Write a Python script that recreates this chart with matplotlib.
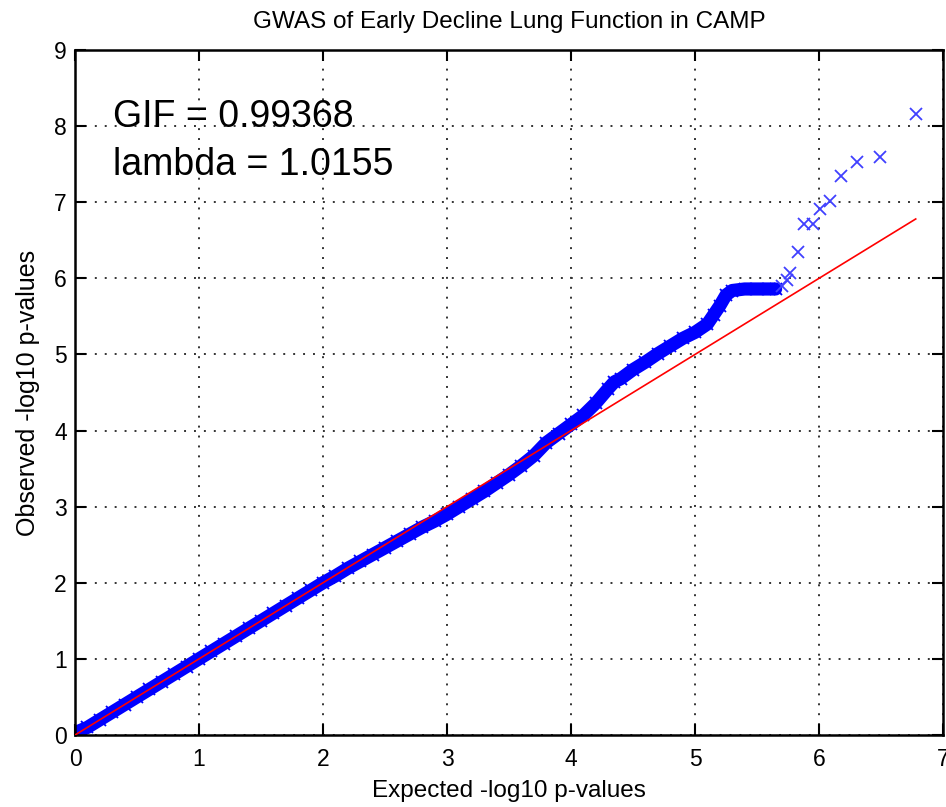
import matplotlib
matplotlib.use("Agg")
import matplotlib.pyplot as plt

# ---- data ----
band_x = [0.0, 0.1, 0.2, 0.3, 0.4, 0.5, 0.6, 0.7, 0.8, 0.9, 1.0, 1.1, 1.2, 1.3, 1.4,
          1.5, 1.6, 1.7, 1.8, 1.9, 2.0, 2.1, 2.2, 2.3, 2.4, 2.5, 2.6, 2.7, 2.8, 2.9,
          3.0, 3.1, 3.2, 3.3, 3.4, 3.5, 3.6, 3.7, 3.8, 3.9, 4.0, 4.1, 4.2, 4.3, 4.35,
          4.4, 4.5, 4.6, 4.7, 4.8, 4.9, 5.0, 5.1, 5.15, 5.2, 5.25, 5.3, 5.4, 5.5, 5.6, 5.65]
band_y = [0.03, 0.1, 0.2, 0.3, 0.4, 0.5, 0.6, 0.7, 0.8, 0.9, 1.0, 1.1, 1.2, 1.3, 1.4,
          1.5, 1.6, 1.7, 1.8, 1.9, 2.0, 2.09, 2.19, 2.28, 2.37, 2.46, 2.55, 2.64, 2.73, 2.81,
          2.90, 3.00, 3.10, 3.20, 3.31, 3.42, 3.54, 3.67, 3.84, 3.96, 4.08, 4.20, 4.36, 4.55, 4.64,
          4.68, 4.80, 4.90, 5.01, 5.11, 5.21, 5.29, 5.40, 5.52, 5.64, 5.78, 5.84, 5.86, 5.86, 5.86, 5.86]

tail_x = [5.70, 5.74, 5.77, 5.83, 5.88, 5.95, 6.01, 6.09, 6.18, 6.31, 6.49, 6.78]
tail_y = [5.90, 5.98, 6.07, 6.35, 6.71, 6.71, 6.91, 7.01, 7.35, 7.53, 7.59, 8.16]

ref_x = [0.0, 6.78]
ref_y = [0.0, 6.78]

x_ticks = [0, 1, 2, 3, 4, 5, 6, 7]
y_ticks = [0, 1, 2, 3, 4, 5, 6, 7, 8, 9]

title = "GWAS of Early Decline Lung Function in CAMP"
xlabel = "Expected -log10 p-values"
ylabel = "Observed -log10 p-values"
gif_text = "GIF = 0.99368"
lambda_text = "lambda = 1.0155"

plt.rcParams['font.family'] = ['Liberation Sans', 'DejaVu Sans']

fig = plt.figure(figsize=(9.46, 8.07), dpi=100)
ax = fig.add_axes([75/946, 72/807, 868/946, 685/807])

ax.plot(band_x, band_y, color='blue', lw=9.5, solid_capstyle='round', zorder=2)
ax.plot(band_x, band_y, 'x', color='blue', ms=9, mew=1.3, zorder=2)
ax.plot(tail_x, tail_y, 'x', color='#4040ff', ms=9, mew=1.3, linestyle='none', zorder=3)
ax.plot(ref_x, ref_y, color='red', lw=1.2, zorder=4)

ax.set_xlim(0, 7)
ax.set_ylim(0, 9)
ax.set_xticks(x_ticks)
ax.set_yticks(y_ticks)
ax.grid(True, linestyle=(0, (1, 4.1)), color='#333333', linewidth=1.4)
ax.set_axisbelow(True)
ax.tick_params(direction='in', length=8, width=1.5, top=True, right=True,
               labelsize=16.5)
ax.tick_params(axis='x', pad=9)
ax.tick_params(axis='y', pad=6)
for s in ax.spines.values():
    s.set_linewidth(1.8)

ax.set_title(title, fontsize=17.5, pad=16)
ax.set_xlabel(xlabel, fontsize=17.5, labelpad=7)
ax.set_ylabel(ylabel, fontsize=18, labelpad=10)

ax.text(0.31, 7.99, gif_text, fontsize=27)
ax.text(0.31, 7.36, lambda_text, fontsize=27)

fig.savefig("out.png", dpi=100)
